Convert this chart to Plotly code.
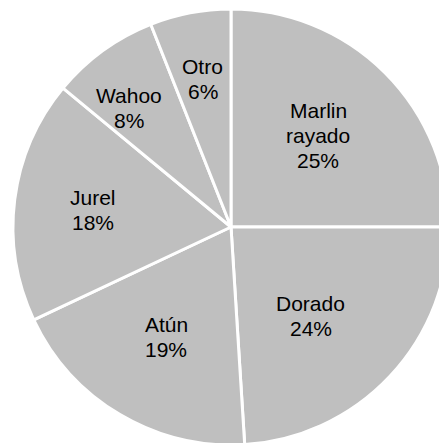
import math
import plotly.graph_objects as go

labels = ["Marlin rayado", "Dorado", "Atún", "Jurel", "Wahoo", "Otro"]
label_lines = [["Marlin", "rayado"], ["Dorado"], ["Atún"], ["Jurel"], ["Wahoo"], ["Otro"]]
values = [25, 24, 19, 18, 8, 6]

# label placement style: fraction of radius and angular nudge (deg) per slice
label_radius = [0.58, 0.55, 0.585, 0.64, 0.72, 0.69]
label_nudge = [-1.5, 5.0, 0.0, 0.0, -4.5, 0.0]

W, H = 462, 454
R = 218
cx, cy = 231, 227
FONT = dict(family="Liberation Sans, Arial, sans-serif", size=21, color="black")
LINE_H = 25

fig = go.Figure(go.Pie(
    labels=labels,
    values=values,
    sort=False,
    direction="clockwise",
    rotation=0,
    marker=dict(colors=["#bfbfbf"] * len(values), line=dict(color="white", width=3)),
    textinfo="none",
    hoverinfo="label+percent",
    domain=dict(x=[(cx - R) / W, (cx + R) / W], y=[0, 1]),
    showlegend=False,
))

total = sum(values)
cum = 0
annotations = []
for lines, v, rf, nd in zip(label_lines, values, label_radius, label_nudge):
    mid = (cum + v / 2) / total * 2 * math.pi + math.radians(nd)
    cum += v
    px = cx + rf * R * math.sin(mid)
    py = cy - rf * R * math.cos(mid)
    all_lines = lines + [f"{round(100 * v / total)}%"]
    n = len(all_lines)
    for i, t in enumerate(all_lines):
        ly = py + (i - (n - 1) / 2) * LINE_H
        annotations.append(dict(
            x=px / W, y=1 - ly / H, xref="paper", yref="paper",
            text=t, showarrow=False, font=FONT,
            xanchor="center", yanchor="middle",
        ))

fig.update_layout(
    width=W, height=H,
    margin=dict(l=0, r=0, t=0, b=0),
    paper_bgcolor="white",
    plot_bgcolor="white",
    showlegend=False,
    annotations=annotations,
)

fig.write_html(
    "out.html",
    config={"displayModeBar": False},
    post_script="document.body.style.margin='0';document.body.style.overflow='hidden';document.documentElement.style.overflow='hidden';",
)
